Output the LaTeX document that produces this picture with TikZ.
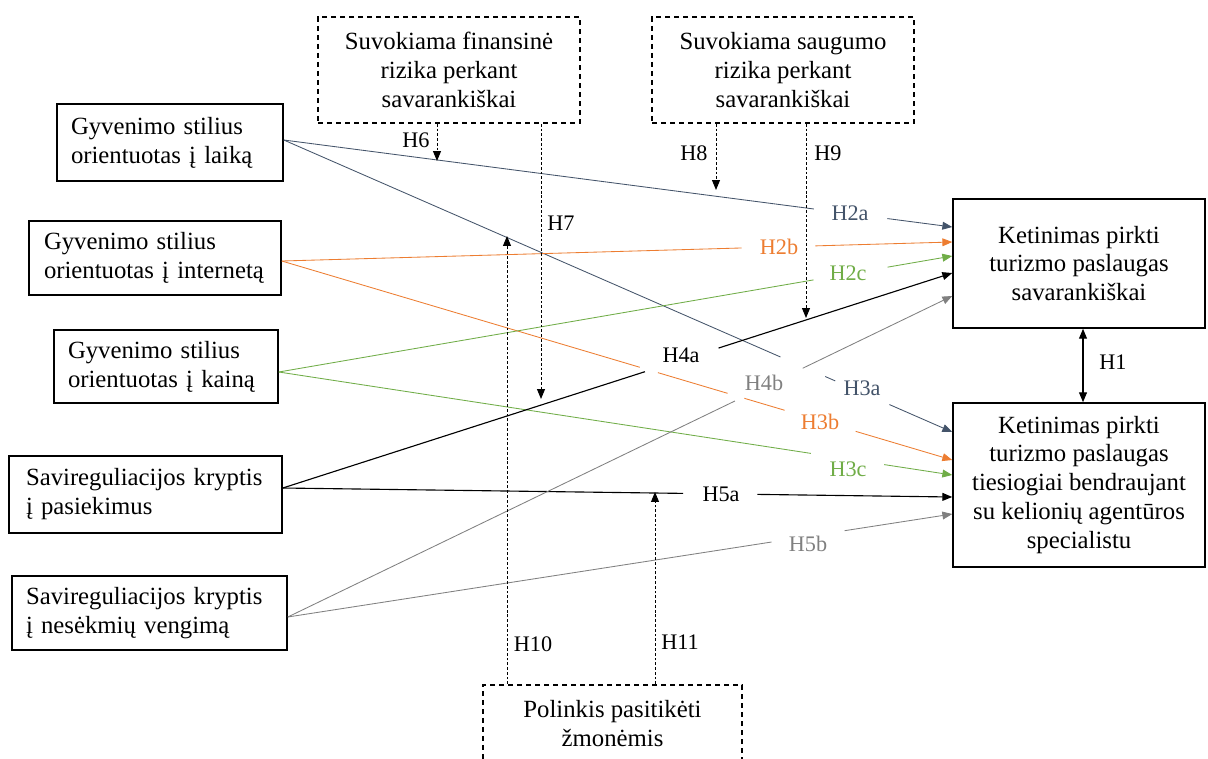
\documentclass[tikz,border=0pt]{standalone}
\usepackage{fontspec}
\setmainfont{Liberation Serif}
\usetikzlibrary{arrows.meta,calc}
\newlength\pxl \setlength\pxl{0.025cm}
\definecolor{cblue}{HTML}{44546A}
\definecolor{corange}{HTML}{ED7D31}
\definecolor{cgreen}{HTML}{70AD47}
\definecolor{cgray}{HTML}{808080}
\begin{document}
\begin{tikzpicture}[x=0.025cm,y=-0.025cm,
  box/.style={draw, line width=1.1pt, inner sep=0pt, font=\fontsize{17.6}{20.6}\selectfont},
  lbox/.style={box, align=left},
  cbox/.style={box, align=center},
  dbox/.style={cbox, dash pattern=on 3.8pt off 2.6pt},
  lab/.style={font=\fontsize{15.8}{18}\selectfont, inner sep=0pt},
  conn/.style={line width=0.6pt},
  bconn/.style={line width=0.8pt},
  tip/.style={-{Triangle[length=7pt,width=5.6pt]}},
  hyp/.style={line width=0.7pt, dash pattern=on 2pt off 1.4pt, -{Triangle[length=7pt,width=5.6pt]}}
]
\useasboundingbox (0,0) rectangle (1208,758);
\clip (0,0) rectangle (1208,758);
\fill[white] (0,0) rectangle (1208,758);

% left boxes
\node[lbox, minimum width=226\pxl, minimum height=77\pxl, text width=198\pxl] (A) at (170,142.5) {Gyvenimo stilius\\orientuotas į laiką};
\node[lbox, minimum width=252\pxl, minimum height=74\pxl, text width=222\pxl] (B) at (155,258) {Gyvenimo stilius\\orientuotas į internetą};
\node[lbox, minimum width=224\pxl, minimum height=73\pxl, text width=196\pxl] (C) at (166,366.5) {Gyvenimo stilius\\orientuotas į kainą};
\node[lbox, minimum width=273\pxl, minimum height=77\pxl, text width=239\pxl] (D) at (145.5,494.5) {Savireguliacijos kryptis\\į pasiekimus};
\node[lbox, minimum width=275\pxl, minimum height=74\pxl, text width=247\pxl] (E) at (149.5,613) {Savireguliacijos kryptis\\į nesėkmių vengimą};

% right boxes
\node[cbox, minimum width=252\pxl, minimum height=129\pxl] (K1) at (1079,263.5) {Ketinimas pirkti\\turizmo paslaugas\\savarankiškai};
\node[cbox, minimum width=252\pxl, minimum height=164\pxl] (K2) at (1079,485) {Ketinimas pirkti\\turizmo paslaugas\\tiesiogiai bendraujant\\su kelionių agentūros\\specialistu};

% dashed boxes
\node[dbox, minimum width=262\pxl, minimum height=106\pxl] (F) at (449,70) {Suvokiama finansinė\\rizika perkant\\savarankiškai};
\node[dbox, minimum width=262\pxl, minimum height=106\pxl] (G) at (783,70) {Suvokiama saugumo\\rizika perkant\\savarankiškai};
\node[dbox, minimum width=259\pxl, minimum height=106\pxl] (P) at (612.5,738) {Polinkis pasitikėti\\žmonėmis\\\mbox{}};

% endpoints
\coordinate (a0) at ($(A.east)+(0,-2.5)$);
\coordinate (b0) at ($(B.east)+(0,3)$);
\coordinate (c0) at ($(C.east)+(0,5.5)$);
\coordinate (d0) at ($(D.east)+(0,-6.5)$);
\coordinate (e0) at ($(E.east)+(0,4)$);
\coordinate (k1a) at ($(K1.west)+(0,-36.5)$);
\coordinate (k1b) at ($(K1.west)+(0,-21.5)$);
\coordinate (k1c) at ($(K1.west)+(0,-7.5)$);
\coordinate (k1d) at ($(K1.west)+(0,9.5)$);
\coordinate (k1e) at ($(K1.west)+(0,32.5)$);
\coordinate (k2a) at ($(K2.west)+(0,-53)$);
\coordinate (k2b) at ($(K2.west)+(0,-25)$);
\coordinate (k2c) at ($(K2.west)+(0,-10)$);
\coordinate (k2d) at ($(K2.west)+(0,12)$);
\coordinate (k2e) at ($(K2.west)+(0,29)$);

% H2a
\draw[conn,cblue] (a0) -- ($(a0)!0.793!(k1a)$);
\draw[conn,cblue,tip] ($(a0)!0.903!(k1a)$) -- (k1a);
% H3a
\draw[conn,cblue] (a0) -- ($(a0)!0.743!(k2a)$);
\draw[conn,cblue] ($(a0)!0.810!(k2a)$) -- ($(a0)!0.825!(k2a)$);
\draw[conn,cblue,tip] ($(a0)!0.906!(k2a)$) -- (k2a);
% H2b
\draw[conn,corange] (b0) -- ($(b0)!0.686!(k1b)$);
\draw[conn,corange,tip] ($(b0)!0.796!(k1b)$) -- (k1b);
% H3b
\draw[conn,corange] (b0) -- ($(b0)!0.534!(k2b)$);
\draw[conn,corange] ($(b0)!0.561!(k2b)$) -- ($(b0)!0.665!(k2b)$);
\draw[conn,corange] ($(b0)!0.690!(k2b)$) -- ($(b0)!0.750!(k2b)$);
\draw[conn,corange,tip] ($(b0)!0.856!(k2b)$) -- (k2b);
% H2c
\draw[conn,cgreen] (c0) -- ($(c0)!0.794!(k1c)$);
\draw[conn,cgreen,tip] ($(c0)!0.904!(k1c)$) -- (k1c);
% H3c
\draw[conn,cgreen] (c0) -- ($(c0)!0.790!(k2c)$);
\draw[conn,cgreen,tip] ($(c0)!0.899!(k2c)$) -- (k2c);
% H4a
\draw[bconn,black] (d0) -- ($(d0)!0.541!(k1d)$);
\draw[bconn,black,tip] ($(d0)!0.651!(k1d)$) -- (k1d);
% H5a
\draw[bconn,black] (d0) -- ($(d0)!0.598!(k2d)$);
\draw[bconn,black,tip] ($(d0)!0.709!(k2d)$) -- (k2d);
% H4b
\draw[conn,cgray] (e0) -- ($(e0)!0.673!(k1e)$);
\draw[conn,cgray,tip] ($(e0)!0.775!(k1e)$) -- (k1e);
% H5b
\draw[conn,cgray] (e0) -- ($(e0)!0.728!(k2e)$);
\draw[conn,cgray,tip] ($(e0)!0.838!(k2e)$) -- (k2e);

% H1
\coordinate (h1) at (1083,0);
\draw[line width=0.8pt,{Triangle[length=7pt,width=5.6pt]}-{Triangle[length=7pt,width=5.6pt]}] (K1.south -| h1) -- (K2.north -| h1);

% moderators
\coordinate (h6) at (437,161);
\coordinate (h7) at (541,399);
\coordinate (h8) at (716,190);
\coordinate (h9) at (806,318);
\coordinate (h10) at (507,236);
\coordinate (h11) at (655,492);
\draw[hyp] (F.south -| h6) -- (h6);
\draw[hyp] (F.south -| h7) -- (h7);
\draw[hyp] (G.south -| h8) -- (h8);
\draw[hyp] (G.south -| h9) -- (h9);
\draw[hyp] (P.north -| h10) -- (h10);
\draw[hyp] (P.north -| h11) -- (h11);

% labels
\node[lab,text=cblue] (l2a) at (850,213) {H2a};
\node[lab,text=corange] (l2b) at (779,247) {H2b};
\node[lab,text=cgreen] (l2c) at (848,273) {H2c};
\node[lab] (l4a) at (681,355) {H4a};
\node[lab,text=cgray] (l4b) at (764,383) {H4b};
\node[lab,text=cblue] (l3a) at (862,388) {H3a};
\node[lab,text=corange] (l3b) at (820,422) {H3b};
\node[lab,text=cgreen] (l3c) at (848,469) {H3c};
\node[lab] (l5a) at (721,494) {H5a};
\node[lab,text=cgray] (l5b) at (808,544) {H5b};
\node[lab] (l1) at (1113,362) {H1};
\node[lab] (l6) at (416,140) {H6};
\node[lab] (l7) at (561,223) {H7};
\node[lab] (l8) at (694,153) {H8};
\node[lab] (l9) at (828,153) {H9};
\node[lab] (l10) at (533,644) {H10};
\node[lab] (l11) at (680,642) {H11};
\end{tikzpicture}
\end{document}
